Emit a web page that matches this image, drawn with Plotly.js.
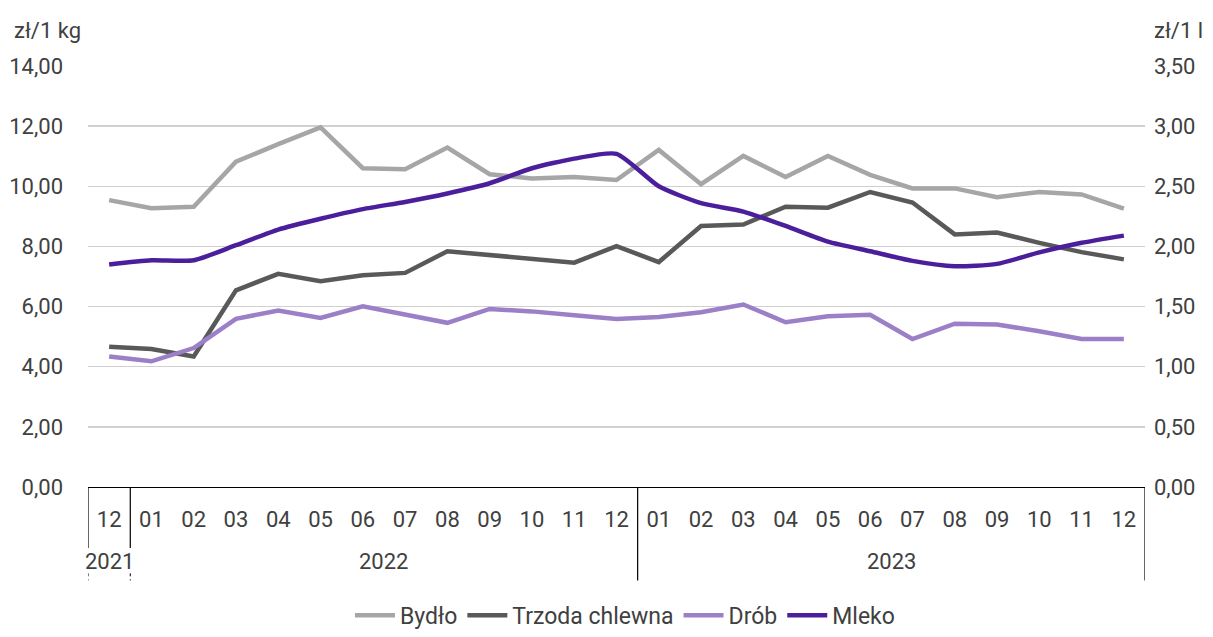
<!DOCTYPE html>
<html>
<head>
<meta charset="utf-8">
<script src="https://cdn.plot.ly/plotly-3.0.1.min.js"></script>
<style>
html,body{margin:0;padding:0;background:#fff;}
#chart{width:1213px;height:637px;}
</style>
</head>
<body>
<div id="chart"></div>
<script>
const years = ['2021','2022','2022','2022','2022','2022','2022','2022','2022','2022','2022','2022','2022',
               '2023','2023','2023','2023','2023','2023','2023','2023','2023','2023','2023','2023'];
const months = ['12','01','02','03','04','05','06','07','08','09','10','11','12',
                '01','02','03','04','05','06','07','08','09','10','11','12'];
const bydlo = [9.54, 9.27, 9.32, 10.82, 11.40, 11.96, 10.60, 10.57, 11.29, 10.40, 10.26, 10.31, 10.21,
               11.21, 10.07, 11.01, 10.31, 11.01, 10.38, 9.93, 9.93, 9.64, 9.81, 9.73, 9.26];
const trzoda = [4.66, 4.59, 4.34, 6.54, 7.09, 6.84, 7.04, 7.12, 7.84, 7.71, 7.59, 7.46, 8.01,
                7.48, 8.68, 8.73, 9.32, 9.29, 9.81, 9.46, 8.40, 8.46, 8.12, 7.81, 7.57];
const drob = [4.34, 4.18, 4.62, 5.59, 5.87, 5.62, 6.01, 5.73, 5.46, 5.92, 5.84, 5.71, 5.59,
              5.65, 5.81, 6.07, 5.48, 5.68, 5.73, 4.92, 5.43, 5.40, 5.18, 4.92, 4.92];
const mleko = [1.85, 1.885, 1.885, 2.01, 2.14, 2.23, 2.31, 2.37, 2.44, 2.525, 2.65, 2.73, 2.77,
               2.50, 2.36, 2.29, 2.17, 2.04, 1.96, 1.88, 1.835, 1.855, 1.95, 2.03, 2.09];
const seriesNames = ['Bydło','Trzoda chlewna','Drób','Mleko'];
const leftTitle = 'zł/1 kg';
const rightTitle = 'zł/1 l';

const FONT = 'Roboto, "Open Sans", sans-serif';
const TXT = '#404040';
const FS = 22;
const idx = months.map((_, i) => i);
const n = idx.length;

const traces = [
  {x:idx, y:bydlo, name:seriesNames[0], type:'scatter', mode:'lines', line:{color:'#a6a6a6', width:4.5}},
  {x:idx, y:trzoda, name:seriesNames[1], type:'scatter', mode:'lines', line:{color:'#595959', width:4.5}},
  {x:idx, y:drob, name:seriesNames[2], type:'scatter', mode:'lines', line:{color:'#9b80c8', width:4.5}},
  {x:idx, y:mleko, name:seriesNames[3], type:'scatter', mode:'lines', yaxis:'y2',
   line:{color:'#4b1f9c', width:4.5, shape:'spline', smoothing:0.6}}
];

// year groups derived from the years array
const groups = [];
years.forEach((yr, i) => {
  if (i === 0 || yr !== years[i-1]) groups.push({label:yr, start:i, end:i});
  else groups[groups.length-1].end = i;
});

const FULL = -0.222, SHORT = -0.145;
const shortFirst = groups.length > 1 && (groups[0].end - groups[0].start) < 2;
const shapes = [];
const annotations = [];
groups.forEach((g, k) => {
  const b = g.start - 0.5;
  const isShort = shortFirst && k <= 1;
  shapes.push({type:'line', xref:'x', yref:'paper', x0:b, x1:b, y0:0, y1: isShort ? SHORT : FULL,
               line:{color:'#000', width:1.2}});
  if (isShort) {
    shapes.push({type:'line', xref:'x', yref:'paper', x0:b, x1:b, y0:-0.205, y1:FULL,
                 line:{color:'#000', width:1, dash:'dot'}});
  }
  annotations.push({text:g.label, xref:'x', yref:'paper', x:(g.start+g.end)/2, y:-0.178,
                    xanchor:'center', yanchor:'middle', showarrow:false,
                    font:{family:FONT, size:FS, color:TXT}});
});
shapes.push({type:'line', xref:'x', yref:'paper', x0:n-0.5, x1:n-0.5, y0:0, y1:FULL,
             line:{color:'#000', width:1.2}});

annotations.push({text:leftTitle, xref:'paper', yref:'paper', x:-0.0719, y:1.0855, xanchor:'left', yanchor:'middle',
                  showarrow:false, font:{family:FONT, size:FS, color:TXT}});
annotations.push({text:rightTitle, xref:'paper', yref:'paper', x:1.0066, y:1.0855, xanchor:'left', yanchor:'middle',
                  showarrow:false, font:{family:FONT, size:FS, color:TXT}});

const layout = {
  width:1213, height:637,
  margin:{l:88, r:68, t:66, b:150, autoexpand:false},
  paper_bgcolor:'#fff', plot_bgcolor:'#fff',
  separators:', ',
  font:{family:FONT, size:FS, color:TXT},
  showlegend:true,
  legend:{orientation:'h', x:0.508, xanchor:'center', y:-0.305, yanchor:'middle',
          font:{family:FONT, size:23, color:TXT}, itemwidth:40},
  xaxis:{type:'linear', range:[-0.5, n-0.5], tickvals:idx, ticktext:months, showgrid:false,
         showline:true, linecolor:'#000', linewidth:1.2, zeroline:false, ticks:'',
         ticklabelstandoff:12, tickfont:{family:FONT, size:FS, color:TXT}},
  yaxis:{range:[0,14], dtick:2, tickformat:'.2f', showgrid:true, gridcolor:'#d0d0d0', gridwidth:1.5,
         zeroline:false, showline:false, ticks:'', ticklabelstandoff:24,
         tickfont:{family:FONT, size:FS, color:TXT}},
  yaxis2:{range:[0,3.5], dtick:0.5, tickformat:'.2f', overlaying:'y', side:'right', showgrid:false,
          zeroline:false, showline:false, ticks:'', ticklabelstandoff:8,
          tickfont:{family:FONT, size:FS, color:TXT}},
  shapes:shapes,
  annotations:annotations
};

Plotly.newPlot('chart', traces, layout, {displayModeBar:false, staticPlot:true});
</script>
</body>
</html>
